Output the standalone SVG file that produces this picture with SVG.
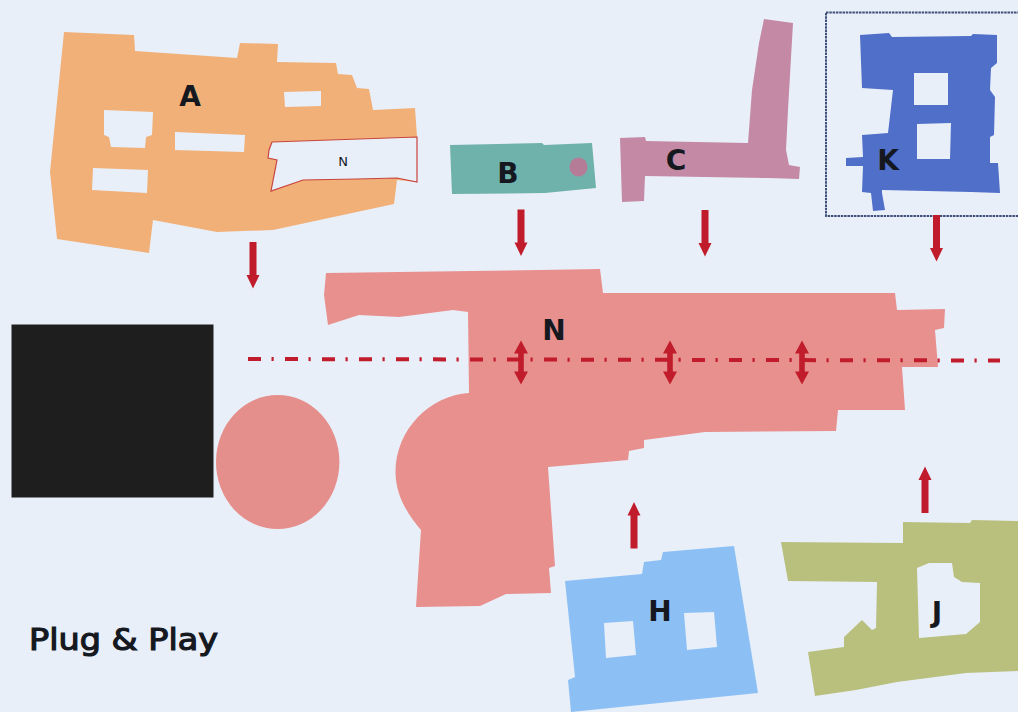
<svg xmlns="http://www.w3.org/2000/svg" width="1018" height="712" viewBox="0 0 1018 712">
<defs>
<style>
.s{fill-rule:evenodd;stroke:none}
.l{font-family:"DejaVu Sans",sans-serif;font-weight:700;font-size:28px;fill:#15181f;text-anchor:middle}
.arrow{fill:#c01c2b;stroke:none}
</style>
<path id="dn" d="M-3.500 0H3.500V33H6.500L0 46.500L-6.500 33H-3.500Z"/>
<path id="dbl" d="M0 -22L7 -9H2.800V9H7L0 22L-7 9H-2.800V-9H-7Z"/>
</defs>
<rect width="1018" height="712" fill="#e9eff9"/>
<g id="node-A">
<path class="s" fill="#f1b078" d="M64 32L134 35L135 51L237 58L240 43L278 44L277 62L336 63L338 74L352 75L357 88L369 89L373 110L415 108L417 137L417 182L397 180L394 204L273 230L217 232L153 220L149 253L57 239L50 172Z
M104 110L153 112L152 135L146 137L145 148L111 147L109 137L104 135Z
M175 132L245 135L244 152L175 150Z
M93 168L148 170L147 193L92 190Z
M284 92L321 91L321 106L285 107Z"/>
<path fill="#e9eff9" stroke="#c8443c" stroke-width="1.200" d="M272 142L417 137V182L397 178L357 179L303 180L271 191L277 160L268 158L269 150Z"/>
<text class="l" x="190" y="106">A</text>
<text x="343" y="166" text-anchor="middle" font-family="'DejaVu Sans',sans-serif" font-size="13" fill="#15181f">N</text>
</g>
<g id="node-B">
<path class="s" fill="#6fb2ac" d="M450 145L542 143L544 145L592 143L596 188L545 193L452 194Z"/>
<ellipse cx="578.500" cy="167" rx="9" ry="9.500" fill="#b57c98"/>
<text class="l" x="508" y="183">B</text>
</g>
<g id="node-C">
<path class="s" fill="#c48aa5" d="M620 138L645 137L646 141L748 143L752 90L759 43L764 19L793 23L788 110L786 150L789 165L800 167L799 179L768 178L645 176L644 201L622 202Z"/>
<text class="l" x="676" y="170">C</text>
</g>
<g id="node-K">
<rect x="826" y="12.500" width="194" height="203.500" fill="none" stroke="#3f5078" stroke-width="2" stroke-dasharray="2.500 0.800"/>
<path class="s" fill="#4f6fc8" d="M860 35L889 33L892 37L971 36L973 34L997 35L997 63L991 68L990 90L995 97L994 135L990 137L990 163L998 163L1000 193L971 192L882 190L882 193L885 210L873 211L871 193L862 192L863 166L846 166L846 158L863 157L862 135L888 133L893 90L862 88Z
M914 73H948V105H914Z
M917 124L951 123L950 159H917Z"/>
<text class="l" x="888" y="170">K</text>
</g>
<g id="node-N">
<path class="s" fill="#e8908e" d="M326 273L471 271L600 269L603 293L895 293L897 310L945 309L944 328L935 330L938 367L902 367L905 410L838 410L836 431L705 432L644 440L644 448L629 451L628 460L548 467L555 566L549 568L551 593L506 594L480 606L416 607L421 530C410 517 396 498 395.500 473C395 430 430 395 469 393L468 312L453 310L399 317L359 315L328 325L324 295Z"/>
<text class="l" x="554" y="340">N</text>
</g>
<g id="node-H">
<path class="s" fill="#8cc0f4" d="M565 581L642 574L644 562L661 560L663 552L734 546L758 693L571 712L568 680L575 677Z
M604 623L633 621L636 655L606 658Z
M684 613L714 612L717 647L687 650Z"/>
<text class="l" x="660" y="621">H</text>
</g>
<g id="node-J">
<path class="s" fill="#b9c07e" d="M781 542L903 543L903 522L970 523L972 520L1018 521V671L966 673L897 682L856 690L815 696L808 652L844 647L844 637L862 620L872 630L876 628L877 582L788 581Z
M917 568L929 563L952 563L954 577L962 582L980 583L980 622L966 634L919 638Z"/>
<text class="l" x="937" y="622">J</text>
</g>
<g id="node-block"><rect x="11.500" y="324.500" width="202" height="173" fill="#1e1e1e"/></g>
<g id="node-circle"><ellipse cx="277.700" cy="462" rx="61.700" ry="67" fill="#e58f8c"/></g>
<g id="connectors">
<path fill="none" stroke="#c01c2b" stroke-width="4" stroke-dasharray="13 10.500 2.200 11.300" d="M248 359L1000 360.500"/>
<use class="arrow" href="#dn" x="253" y="242"/>
<use class="arrow" href="#dn" x="521" y="209.500"/>
<use class="arrow" href="#dn" x="705" y="210"/>
<use class="arrow" href="#dn" x="936.500" y="215"/>
<use class="arrow" href="#dn" transform="translate(634 548.500) scale(1 -1)"/>
<use class="arrow" href="#dn" transform="translate(925 513) scale(1 -1)"/>
<use class="arrow" href="#dbl" x="521" y="362.500"/>
<use class="arrow" href="#dbl" x="670" y="362.500"/>
<use class="arrow" href="#dbl" x="802" y="362.500"/>
</g>
<text x="29" y="650" font-family="'DejaVu Sans',sans-serif" font-size="30" fill="#15181f" stroke="#15181f" stroke-width="1.200" textLength="189" lengthAdjust="spacingAndGlyphs">Plug &amp; Play</text>
</svg>
